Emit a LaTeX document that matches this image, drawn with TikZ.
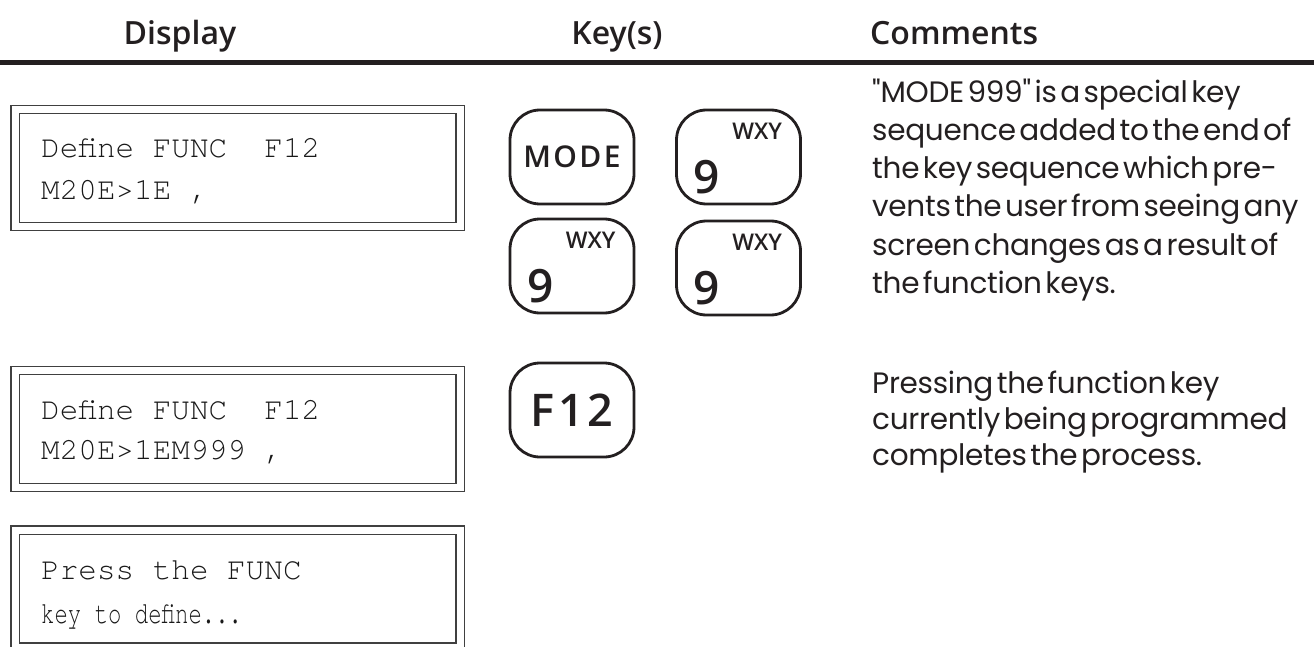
\documentclass[tikz,border=0pt]{standalone}
\usepackage{fontspec}
\usetikzlibrary{calc}
\setmainfont{Open Sans}
\IfFontExistsTF{TeX Gyre Cursor}{\newfontfamily\monofont{TeX Gyre Cursor}}{\newfontfamily\monofont{Liberation Mono}}
\IfFontExistsTF{Open Sans Semibold}
  {\newfontfamily\semib{Open Sans Semibold}\newfontfamily\keyfont[LetterSpace=8]{Open Sans Semibold}}
  {\IfFontExistsTF{Fira Sans SemiBold}
     {\newfontfamily\semib{Fira Sans SemiBold}\newfontfamily\keyfont[LetterSpace=8]{Fira Sans SemiBold}}
     {\newfontfamily\semib{Open Sans Bold}\newfontfamily\keyfont[LetterSpace=6]{Open Sans Bold}}}
\newfontfamily\cmtfont[LetterSpace=-1,WordSpace=0.45]{Poppins}
\definecolor{ink}{RGB}{35,31,32}
\newcommand{\mysp}{\hphantom{x}}
\begin{document}
\begin{tikzpicture}[x=1pt,y=-1pt,
  hdr/.style={font=\semib\fontsize{32}{34}\selectfont, text=ink, inner sep=0pt},
  dispbox/.style={draw=black!75, line width=1.4pt, double=white, double distance=7pt,
     minimum width=445pt, minimum height=117pt, inner sep=0pt},
  disptext/.style={font=\monofont\fontsize{31}{31}\selectfont, text=black!90, anchor=base west, inner sep=0pt},
  keybox/.style={draw=ink, line width=2.8pt, rounded corners=30pt,
     minimum width=124pt, minimum height=94pt, inner sep=0pt},
  keylbl/.style={font=\keyfont\fontsize{30}{32}\selectfont, text=ink, inner sep=0pt},
  bigkey/.style={font=\keyfont\fontsize{45}{46}\selectfont, text=ink, inner sep=0pt},
  digit/.style={font=\semib\fontsize{46}{46}\selectfont, text=ink, inner sep=0pt},
  sublbl/.style={font=\semib\fontsize{23}{24}\selectfont, text=ink, inner sep=0pt},
  cmt/.style={font=\cmtfont\fontsize{29.5}{30}\selectfont, text=ink, anchor=base west, inner sep=0pt}
]
\useasboundingbox (0,0) rectangle (1314,647);
% header
\node[hdr, anchor=base] (hd) at (180,45) {Display};
\node[hdr, anchor=base] (hk) at (617,45) {Key(s)};
\node[hdr, anchor=base west] (hc) at (870,45) {Comments};
\coordinate (rl) at (0,63);
\coordinate (rr) at (1314,63);
\draw[draw=ink, line width=5pt] (rl) -- (rr);
% display boxes
\node[dispbox] (d1) at (237.5,168) {};
\node[dispbox] (d2) at (237.5,429) {};
\node[dispbox] (d3) at (237.5,588.5) {};
\node[disptext] (d1a) at (41,158) {Define\mysp FUNC\mysp\mysp F12};
\node[disptext] (d1b) at (41,200) {M20E>1E\mysp ,};
\node[disptext] (d2a) at (41,419) {Define\mysp FUNC\mysp\mysp F12};
\node[disptext] (d2b) at (41,459) {M20E>1EM999\mysp ,};
\node[disptext] (d3a) at (41,579) {Press\mysp the\mysp FUNC};
\node[disptext] (d3b) at (41,623) {\scalebox{0.72}[1]{key\mysp to\mysp define...}};
% keys
\node[keybox] (kmode) at (572,157) {};
\node[keybox] (k9a) at (738.5,157) {};
\node[keybox] (k9b) at (572,266) {};
\node[keybox] (k9c) at (738.5,268) {};
\node[keybox] (kf12) at (572,410) {};
\node[keylbl] (tmode) at (kmode.center) {MODE};
\node[bigkey] (tf12) at (kf12.center) {F12};
\foreach \k in {k9a,k9b,k9c}{
  \node[digit] (\k-d) at ($(\k.south west)+(32,-28)$) {9};
  \node[sublbl] (\k-s) at ($(\k.north west)+(82,23)$) {WXY};
}
% comments
\foreach \t [count=\i] in {{"MODE 999" is a special key},{sequence added to the end of},{the key sequence which pre-},{vents the user from seeing any},{screen changes as a result of},{the function keys.}}{
  \node[cmt] (ca\i) at (872,{103+38*(\i-1)}) {\t};
}
\foreach \t [count=\i] in {{Pressing the function key},{currently being programmed},{completes the process.}}{
  \node[cmt] (cb\i) at (872,{393+36*(\i-1)}) {\t};
}
\end{tikzpicture}
\end{document}
